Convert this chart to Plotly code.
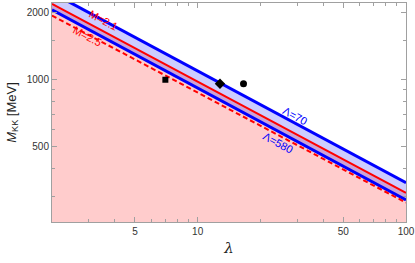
import plotly.graph_objects as go
import math

# Data
lam_ends = [2, 100]
lam70_M = [2455, 345]      # Λ=70 (blue, upper)
lam580_M = [2060, 289]     # Λ=580 (blue, lower)
m21_M = [2190, 311]        # M=2.1 (red solid)
m25_M = [1940, 281]        # M=2.5 (red dashed)

pts_square = ([7.0], [1000])
pts_diamond = ([12.8], [960])
pts_circle = ([16.6], [960])

x_major = [5, 10, 50, 100]
x_minor = [3, 4, 6, 7, 8, 9, 20, 30, 40, 60, 70, 80, 90]
y_major = [500, 1000, 2000]
y_minor = [300, 400, 600, 700, 800, 900, 1500]

y_lo, y_hi = 230, 2210

fig = go.Figure()

# pink region below M=2.1
fig.add_trace(go.Scatter(x=lam_ends, y=[y_lo * 0.5, y_lo * 0.5], mode="lines",
                         line=dict(width=0), showlegend=False, hoverinfo="skip"))
fig.add_trace(go.Scatter(x=lam_ends, y=m21_M, mode="lines", line=dict(width=0),
                         fill="tonexty", fillcolor="rgba(255,0,0,0.2)",
                         showlegend=False, hoverinfo="skip"))
# lavender band between Λ=580 and Λ=70
fig.add_trace(go.Scatter(x=lam_ends, y=lam580_M, mode="lines", line=dict(width=0),
                         showlegend=False, hoverinfo="skip"))
fig.add_trace(go.Scatter(x=lam_ends, y=lam70_M, mode="lines", line=dict(width=0),
                         fill="tonexty", fillcolor="rgba(0,0,255,0.2)",
                         showlegend=False, hoverinfo="skip"))

# lines
fig.add_trace(go.Scatter(x=lam_ends, y=lam70_M, mode="lines",
                         line=dict(color="#0000ff", width=3), showlegend=False))
fig.add_trace(go.Scatter(x=lam_ends, y=lam580_M, mode="lines",
                         line=dict(color="#0000ff", width=3), showlegend=False))
fig.add_trace(go.Scatter(x=lam_ends, y=m21_M, mode="lines",
                         line=dict(color="#ff0000", width=2), showlegend=False))
fig.add_trace(go.Scatter(x=lam_ends, y=m25_M, mode="lines",
                         line=dict(color="#ff0000", width=2, dash="5px,3px"), showlegend=False))

# markers
fig.add_trace(go.Scatter(x=pts_square[0], y=pts_square[1], mode="markers",
                         marker=dict(symbol="square", size=6, color="black"), showlegend=False))
fig.add_trace(go.Scatter(x=pts_diamond[0], y=pts_diamond[1], mode="markers",
                         marker=dict(symbol="diamond", size=8, color="black"), showlegend=False))
fig.add_trace(go.Scatter(x=pts_circle[0], y=pts_circle[1], mode="markers",
                         marker=dict(symbol="circle", size=7, color="black"), showlegend=False))

ann_font = dict(family="Liberation Sans, Arial, sans-serif", size=11)
anns = [
    dict(x=math.log10(3.52), y=math.log10(1850), text="M=2.1", font=dict(color="#ff0000", **ann_font)),
    dict(x=math.log10(2.95), y=math.log10(1570), text="M=2.5", font=dict(color="#ff0000", **ann_font)),
    dict(x=math.log10(29.4), y=math.log10(688), text="Λ=70", font=dict(color="#0000ff", **ann_font)),
    dict(x=math.log10(24.4), y=math.log10(520), text="Λ=580", font=dict(color="#0000ff", **ann_font)),
]
for a in anns:
    a.update(xref="x", yref="y", showarrow=False, textangle=28)
fig.update_layout(annotations=anns)

axis_common = dict(
    type="log", showgrid=False, zeroline=False, showline=True, linecolor="#a0a0a0",
    linewidth=1, mirror="ticks", ticks="inside", ticklen=5, tickcolor="#a0a0a0",
    tickfont=dict(family="Liberation Sans, Arial, sans-serif", size=10, color="#333"),
    automargin=False,
)
fig.update_xaxes(
    **axis_common, range=[math.log10(2), 2], tickmode="array", tickvals=x_major,
    ticktext=[str(v) for v in x_major],
    minor=dict(tickmode="array", tickvals=x_minor, ticks="inside", ticklen=3, tickcolor="#a0a0a0"),
    title=dict(text="<i>λ</i>", font=dict(family="DejaVu Serif, serif", size=15, color="#222"), standoff=6),
)
fig.update_yaxes(
    **axis_common, range=[math.log10(y_lo), math.log10(y_hi)], tickmode="array",
    tickvals=y_major, ticktext=[str(v) for v in y_major],
    minor=dict(tickmode="array", tickvals=y_minor, ticks="inside", ticklen=3, tickcolor="#a0a0a0"),
    title=dict(text="<i>M</i><sub>KK</sub> [MeV]", font=dict(family="Liberation Sans, Arial, sans-serif", size=13, color="#222"), standoff=7),
)

fig.update_layout(
    width=415, height=263, margin=dict(l=52, r=9, t=3, b=41),
    plot_bgcolor="white", paper_bgcolor="white",
)

fig.write_html("out.html", config={"displayModeBar": False},
               post_script="document.body.style.margin='0';document.body.style.overflow='hidden';")
